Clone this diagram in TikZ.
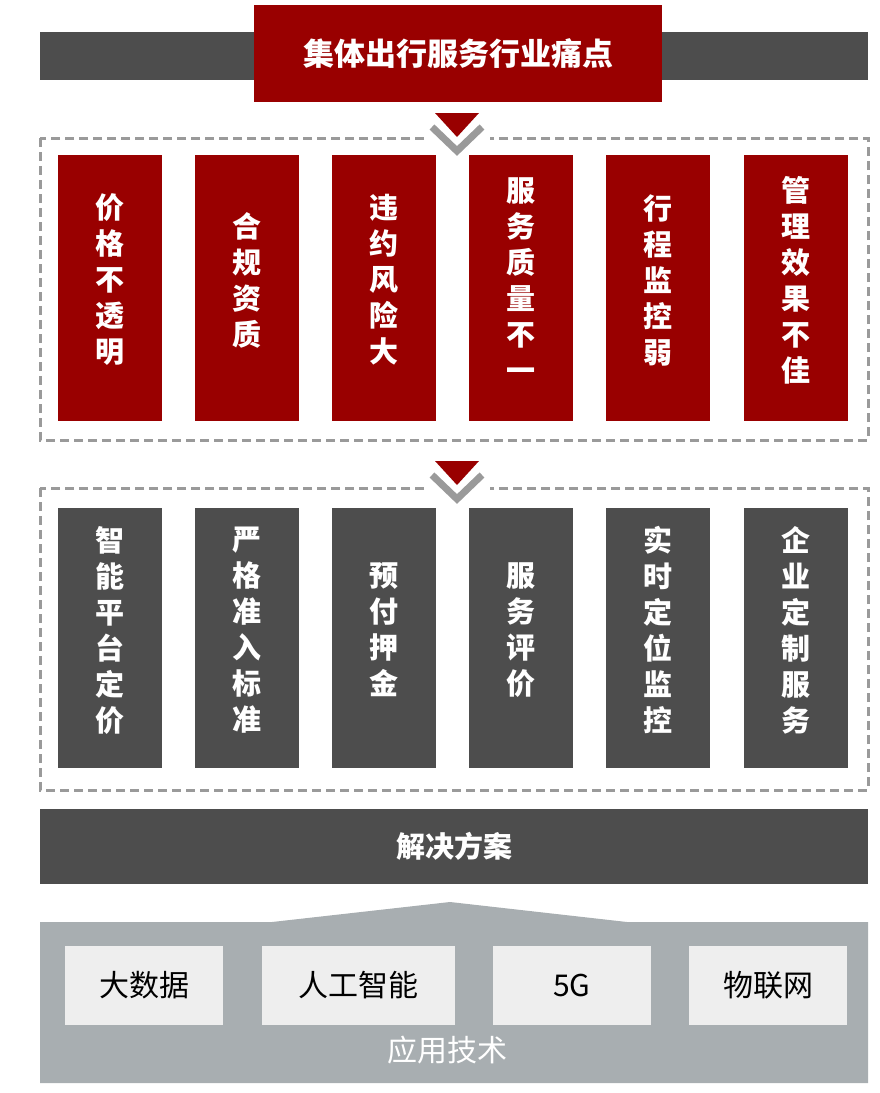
\documentclass[tikz,border=0pt]{standalone}
\usepackage{fontspec}
\setmainfont{Noto Sans CJK SC}
\definecolor{dred}{HTML}{990000}
\definecolor{dgray}{HTML}{4D4D4D}
\definecolor{lgray}{HTML}{A8AEB1}
\definecolor{tbox}{HTML}{EEEEEE}
\definecolor{dashgray}{HTML}{9A9A9A}
\begin{document}
\begin{tikzpicture}[x=1pt,y=-1pt,
  redbox/.style={fill=dred,text=white,font=\fontsize{29}{36}\selectfont\bfseries,align=center},
  graybox/.style={fill=dgray,text=white,font=\fontsize{29}{36}\selectfont\bfseries,align=center},
  techbox/.style={fill=tbox,text=black,font=\fontsize{30}{36}\selectfont},
  dashbox/.style={draw=dashgray,line width=3pt,dash pattern=on 9pt off 5pt}]
\useasboundingbox (0,0) rectangle (880,1093);
% top
\fill[dgray] (40,32) rectangle (868,80);
\node[fill=dred,text=white,minimum width=408,minimum height=97,inner sep=0,font=\fontsize{31}{36}\selectfont\bfseries] (title) at (458,53.5) {集体出行服务行业痛点};
% dashed boxes
\draw[dashbox] (40,138) rectangle (868,440);
\draw[dashbox] (40,488) rectangle (868,790);
% chevrons
\foreach \y in {113,461}{
  \fill[white] (425,\y+20) rectangle (490,\y+45);
  \fill[dred] (435,\y) -- (479,\y) -- (457,\y+24) -- cycle;
  \draw[dashgray,line width=7pt] (432,\y+14) -- (457,\y+38) -- (482,\y+14);
}
% red boxes
\foreach \x/\t [count=\i] in {110/价\\格\\不\\透\\明, 247/合\\规\\资\\质, 384/违\\约\\风\\险\\大, 521/服\\务\\质\\量\\不\\一, 658/行\\程\\监\\控\\弱, 796/管\\理\\效\\果\\不\\佳}{
  \fill[dred] (\x-52,155) rectangle (\x+52,421);
  \node[redbox,fill=none] (p\i) at (\x,280) {\t};
}
\foreach \x/\t [count=\i] in {110/智\\能\\平\\台\\定\\价, 247/严\\格\\准\\入\\标\\准, 384/预\\付\\押\\金, 521/服\\务\\评\\价, 658/实\\时\\定\\位\\监\\控, 796/企\\业\\定\\制\\服\\务}{
  \fill[dgray] (\x-52,508) rectangle (\x+52,768);
  \node[graybox,fill=none] (s\i) at (\x,630) {\t};
}
% solution bar
\node[fill=dgray,text=white,minimum width=828,minimum height=75,inner sep=0,font=\fontsize{29}{36}\selectfont\bfseries] (sol) at (454,846) {解决方案};
% tech base
\fill[lgray] (40,922) -- (272,922) -- (450,902) -- (627,922) -- (868,922) -- (868,1083) -- (40,1083) -- cycle;
\node[techbox,minimum width=158,minimum height=79,inner sep=0] (t1) at (144,985) {大数据};
\node[techbox,minimum width=193,minimum height=79,inner sep=0] (t2) at (358,985) {人工智能};
\node[techbox,minimum width=158,minimum height=79,inner sep=0] (t3) at (572,985) {5G};
\node[techbox,minimum width=158,minimum height=79,inner sep=0] (t4) at (768,985) {物联网};
\node[text=white,font=\fontsize{30}{36}\selectfont] (app) at (447,1050) {应用技术};
\end{tikzpicture}
\end{document}
